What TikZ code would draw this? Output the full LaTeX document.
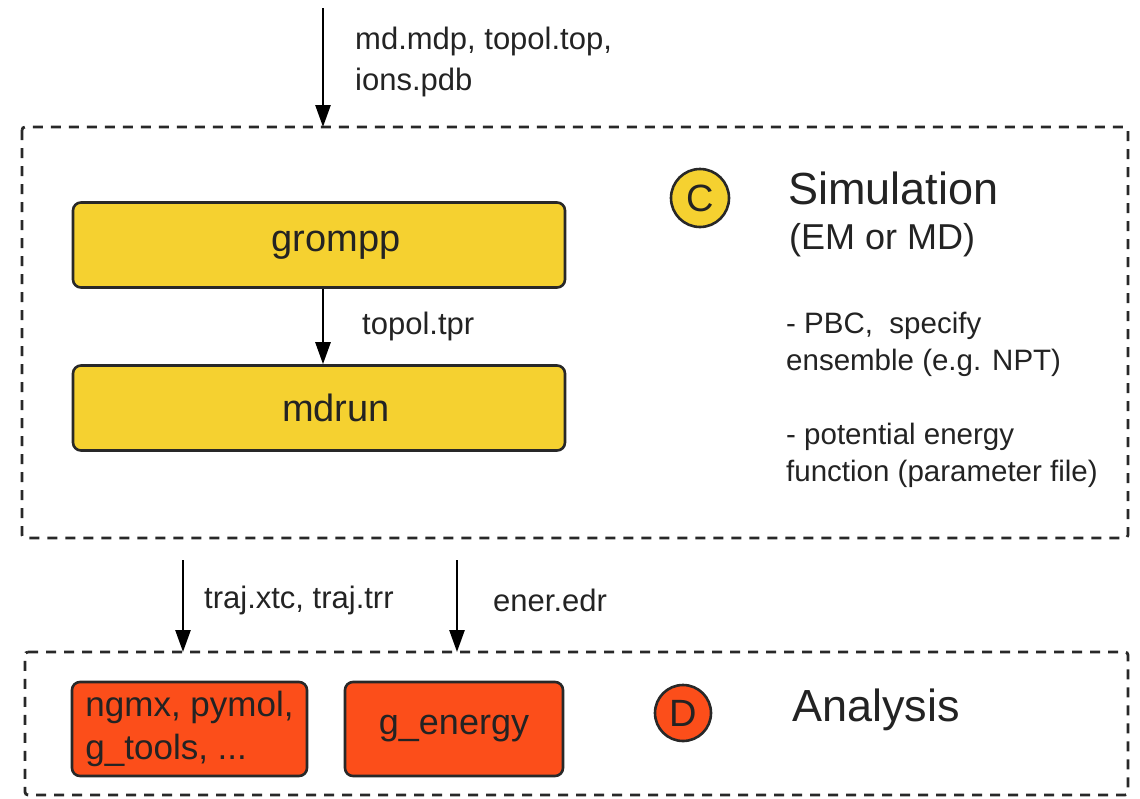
\documentclass[tikz,border=0pt]{standalone}
\usepackage{fontspec}
\setmainfont{Liberation Sans}
\usetikzlibrary{arrows.meta}
\definecolor{simyellow}{RGB}{245,209,48}
\definecolor{anaorange}{RGB}{252,78,26}
\definecolor{edge}{RGB}{40,40,40}
\definecolor{txt}{RGB}{35,35,35}
\tikzset{
  group/.style={draw=edge, line width=2.8pt, dash pattern=on 10pt off 8pt, rounded corners=3pt},
  tool/.style={draw=edge, line width=2.6pt, rounded corners=8pt, inner sep=0pt, text=txt,
    font=\fontsize{38}{43}\selectfont, align=center},
  flow/.style={draw=black, line width=2.6pt, -{Triangle[length=22pt,width=15pt]}},
  lbl/.style={anchor=west, inner sep=0pt, text=txt, align=left, font=\fontsize{31}{41}\selectfont},
  badge/.style={circle, draw=edge, line width=2.6pt, minimum size=58pt, inner sep=0pt,
    font=\fontsize{38}{38}\selectfont, text=txt},
  heading/.style={anchor=west, inner sep=0pt, text=txt, font=\fontsize{45}{45}\selectfont},
  note/.style={anchor=west, inner sep=0pt, text=txt, align=left, font=\fontsize{29.5}{37}\selectfont}
}
\begin{document}
\begin{tikzpicture}[x=1pt,y=-1pt]
\useasboundingbox (0,0) rectangle (1140,798);

% Simulation stage
\draw[group] (22,127) rectangle (1128,538);
\node[tool, fill=simyellow, minimum width=492pt, minimum height=85pt] (grompp) at (319,245) {\hspace*{34pt}grompp};
\node[tool, fill=simyellow, minimum width=492pt, minimum height=85pt] (mdrun) at (319,408) {\hspace*{34pt}mdrun};
\node[badge, fill=simyellow] (c) at (700,198) {C};
\node[heading] (simtitle) at (788,188) {Simulation};
\node[anchor=west, inner sep=0pt, text=txt, font=\fontsize{36}{36}\selectfont] (simsub) at (789,240) {(EM or MD)};
\node[note] (pbc) at (786,344) {- PBC,\ \ specify\\ensemble (e.g. NPT)};
\node[note] (pot) at (786,455) {- potential energy\\function (parameter file)};

% Analysis stage
\draw[group] (25,652) -- (1128,652) -- (1128,795) -- (25,795) -- cycle;
\node[tool, fill=anaorange, minimum width=235pt, minimum height=94pt, align=left, font=\fontsize{35}{43}\selectfont] (viz) at (189.5,729) {ngmx, pymol,\\g\_tools, ...};
\node[tool, fill=anaorange, minimum width=218pt, minimum height=94pt, font=\fontsize{36}{43}\selectfont] (gen) at (454,729) {g\_energy};
\node[badge, fill=anaorange, minimum size=56pt] (d) at (683,713) {D};
\node[heading] (anatitle) at (792,710) {Analysis};

% Input files
\coordinate (in) at (323,8);
\coordinate (simtop) at (323,127);
\draw[flow] (in) -- (simtop);
\node[lbl] (inlbl) at (355,62) {md.mdp, topol.top,\\ions.pdb};

% grompp -> mdrun
\draw[flow] ([xshift=4pt]grompp.south) -- ([xshift=4pt]mdrun.north);
\node[lbl] (tpr) at (362,326) {topol.tpr};

% Outputs to analysis
\coordinate (trajs) at (183,560);
\coordinate (trajt) at (183,652);
\coordinate (eners) at (457,560);
\coordinate (enert) at (457,652);
\draw[flow] (trajs) -- (trajt);
\draw[flow] (eners) -- (enert);
\node[lbl] (trajlbl) at (204,600) {traj.xtc, traj.trr};
\node[lbl] (enerlbl) at (493,600) {ener.edr};
\end{tikzpicture}
\end{document}
